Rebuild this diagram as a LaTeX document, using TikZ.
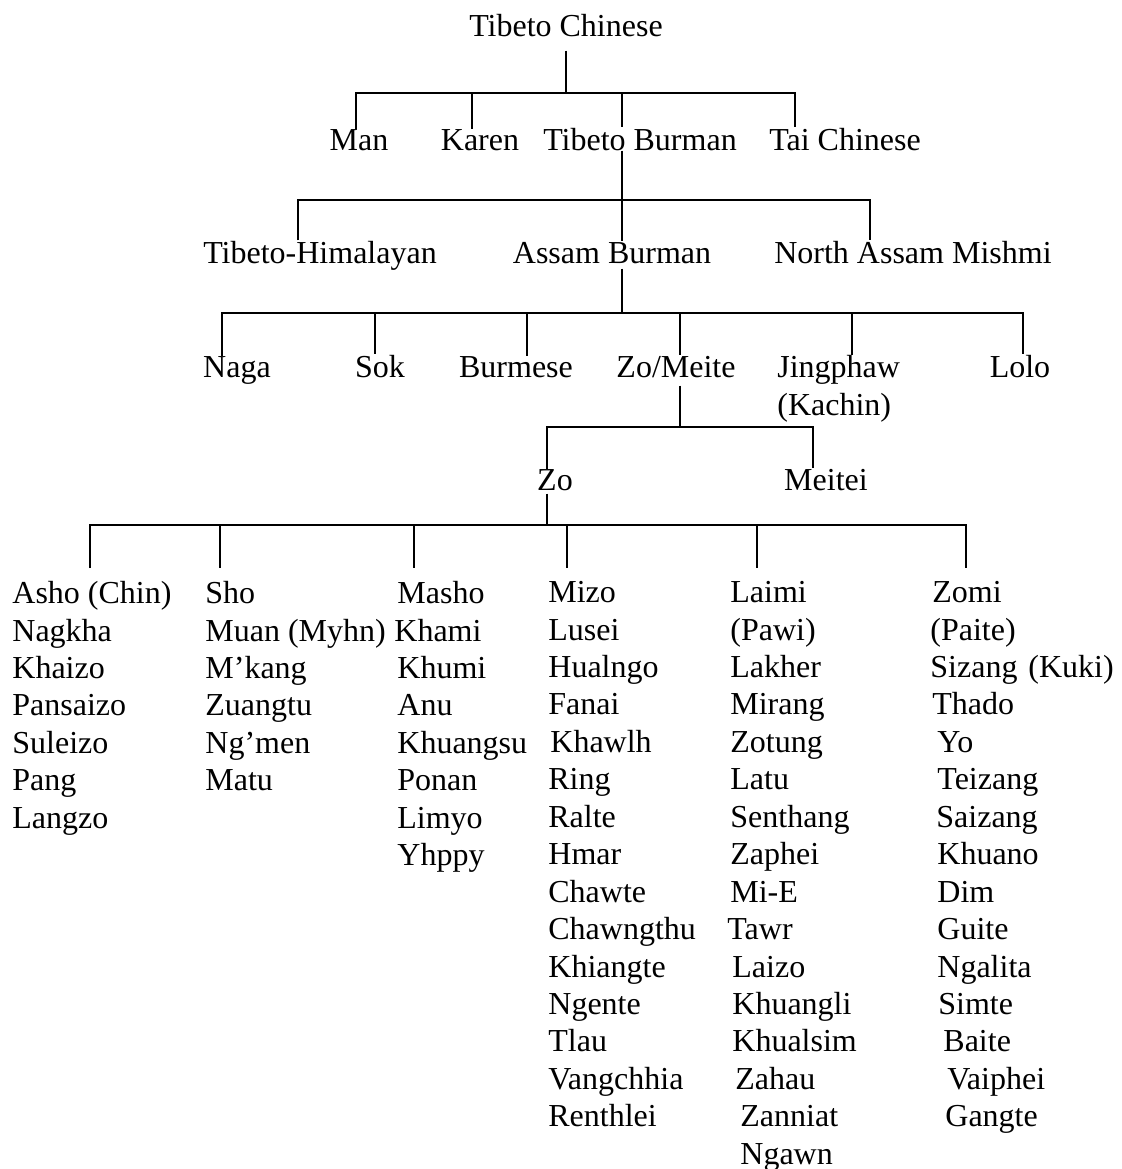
\documentclass[tikz,border=0pt]{standalone}
\usepackage{fontspec}
\setmainfont{Liberation Serif}
\usetikzlibrary{positioning,calc}

\begin{document}
\begin{tikzpicture}[
        x=0.5pt, y=-0.5pt,
        lang/.style={inner sep=0pt, anchor=base, font=\fontsize{16}{18.72}\selectfont},
        group/.style={lang, align=left, anchor=north west},
        link/.style={line width=0.7pt},
    ]
    \useasboundingbox (0,0) rectangle (1122,1169);

    % === Top: family ===
    \node[lang] (tc) at (566,36) {Tibeto Chinese};

    % === Row 1 ===
    \node[lang] (man) at (359,150) {Man};
    \node[lang] (karen) at (480,150) {Karen};
    \node[lang] (tb) at (640,150) {Tibeto Burman};
    \node[lang] (tai) at (845,150) {Tai Chinese};

    \coordinate (d-tc) at (566,93);
    \coordinate (d-man) at (356,93);
    \coordinate (d-karen) at (472,93);
    \coordinate (d-tb) at (622,93);
    \coordinate (d-tai) at (795,93);

    \draw[link] ($(tc.south)+(0,14)$) -- (d-tc);
    \draw[link] (man.north -| d-man) -- (d-man) -- (d-tai) -- (tai.north -| d-tai);
    \draw[link] (d-karen) -- (karen.north -| d-karen);
    \draw[link] (d-tb) -- (tb.north -| d-tb);

    % === Row 2 ===
    \node[lang] (th) at (320,263) {Tibeto-Himalayan};
    \node[lang] (ab) at (612,263) {Assam Burman};
    \node[lang] (nam) at (913,263) {North Assam Mishmi};

    \coordinate (d-th) at (298,200);
    \coordinate (d-ab) at (622,200);
    \coordinate (d-nam) at (870,200);

    \draw[link] (tb.south -| d-ab) -- (ab.north -| d-ab);
    \draw[link] (th.north -| d-th) -- (d-th) -- (d-nam) -- (nam.north -| d-nam);

    % === Row 3 ===
    \node[lang] (naga) at (237,377) {Naga};
    \node[lang] (sok) at (380,377) {Sok};
    \node[lang] (bur) at (516,377) {Burmese};
    \node[lang] (zm) at (676,377) {Zo/Meite};
    \node[group] (jing) at (777,355) {Jingphaw\\(Kachin)};
    \node[lang] (lolo) at (1020,377) {Lolo};

    \coordinate (d-ab2) at (622,313);
    \coordinate (d-naga) at (222,313);
    \coordinate (d-sok) at (375,313);
    \coordinate (d-bur) at (527,313);
    \coordinate (d-zm) at (680,313);
    \coordinate (d-jing) at (852,313);
    \coordinate (d-lolo) at (1023,313);

    \draw[link] ($(ab.south -| d-ab2)+(0,5)$) -- (d-ab2);
    \draw[link] (naga.north -| d-naga) -- (d-naga) -- (d-lolo) -- (lolo.north -| d-lolo);
    \draw[link] (d-sok) -- (sok.north -| d-sok);
    \draw[link] (d-bur) -- (bur.north -| d-bur);
    \draw[link] (d-zm) -- (zm.north -| d-zm);
    \draw[link] (d-jing) -- (jing.north -| d-jing);

    % === Row 4 ===
    \node[lang] (zo) at (555,490) {Zo};
    \node[lang] (meitei) at (826,490) {Meitei};

    \coordinate (d-zm2) at (680,427);
    \coordinate (d-zo) at (547,427);
    \coordinate (d-meitei) at (813,427);

    \draw[link] ($(zm.south -| d-zm2)+(0,8)$) -- (d-zm2);
    \draw[link] (zo.north -| d-zo) -- (d-zo) -- (d-meitei) -- (meitei.north -| d-meitei);

    % === Row 5: Zo groups ===
    \node[group] (asho) at (12,581) {Asho (Chin)\\Nagkha\\Khaizo\\Pansaizo\\Suleizo\\Pang\\Langzo};
    \node[group] (sho) at (205,581) {Sho\\Muan (Myhn)\\M’kang\\Zuangtu\\Ng’men\\Matu};
    \node[group] (masho) at (397,581) {Masho\\\hspace*{-1.5pt}Khami\\Khumi\\Anu\\Khuangsu\\Ponan\\Limyo\\Yhppy};
    \node[group] (mizo) at (548,581) {Mizo\\Lusei\\Hualngo\\Fanai\\\hspace*{1pt}Khawlh\\Ring\\Ralte\\Hmar\\Chawte\\Chawngthu\\Khiangte\\Ngente\\Tlau\\Vangchhia\\Renthlei};
    \node[group] (laimi) at (730,581) {Laimi\\(Pawi)\\Lakher\\Mirang\\Zotung\\Latu\\Senthang\\Zaphei\\Mi-E\\\hspace*{-1.5pt}Tawr\\\hspace*{1pt}Laizo\\\hspace*{1pt}Khuangli\\\hspace*{1pt}Khualsim\\\hspace*{2.5pt}Zahau\\\hspace*{5pt}Zanniat\\\hspace*{5pt}Ngawn};
    \node[group] (zomi) at (930,581) {\hspace*{1pt}Zomi\\(Paite)\\Sizang\hspace{5.5pt}(Kuki)\\\hspace*{1pt}Thado\\\hspace*{3.5pt}Yo\\\hspace*{3.5pt}Teizang\\\hspace*{3pt}Saizang\\\hspace*{3.5pt}Khuano\\\hspace*{3.5pt}Dim\\\hspace*{3.5pt}Guite\\\hspace*{3.5pt}Ngalita\\\hspace*{4pt}Simte\\\hspace*{6.5pt}Baite\\\hspace*{8.5pt}Vaiphei\\\hspace*{7.5pt}Gangte};

    \coordinate (d-zo2) at (547,525);
    \coordinate (d-asho) at (90,525);
    \coordinate (d-sho) at (220,525);
    \coordinate (d-masho) at (414,525);
    \coordinate (d-mizo) at (567,525);
    \coordinate (d-laimi) at (757,525);
    \coordinate (d-zomi) at (966,525);

    \draw[link] ($(zo.south -| d-zo2)+(0,3)$) -- (d-zo2);
    \draw[link] ($(asho.north -| d-asho)+(0,-13)$) -- (d-asho) -- (d-zomi) -- ($(zomi.north -| d-zomi)+(0,-13)$);
    \draw[link] (d-sho) -- ($(sho.north -| d-sho)+(0,-13)$);
    \draw[link] (d-masho) -- ($(masho.north -| d-masho)+(0,-13)$);
    \draw[link] (d-mizo) -- ($(mizo.north -| d-mizo)+(0,-13)$);
    \draw[link] (d-laimi) -- ($(laimi.north -| d-laimi)+(0,-13)$);

\end{tikzpicture}
\end{document}
